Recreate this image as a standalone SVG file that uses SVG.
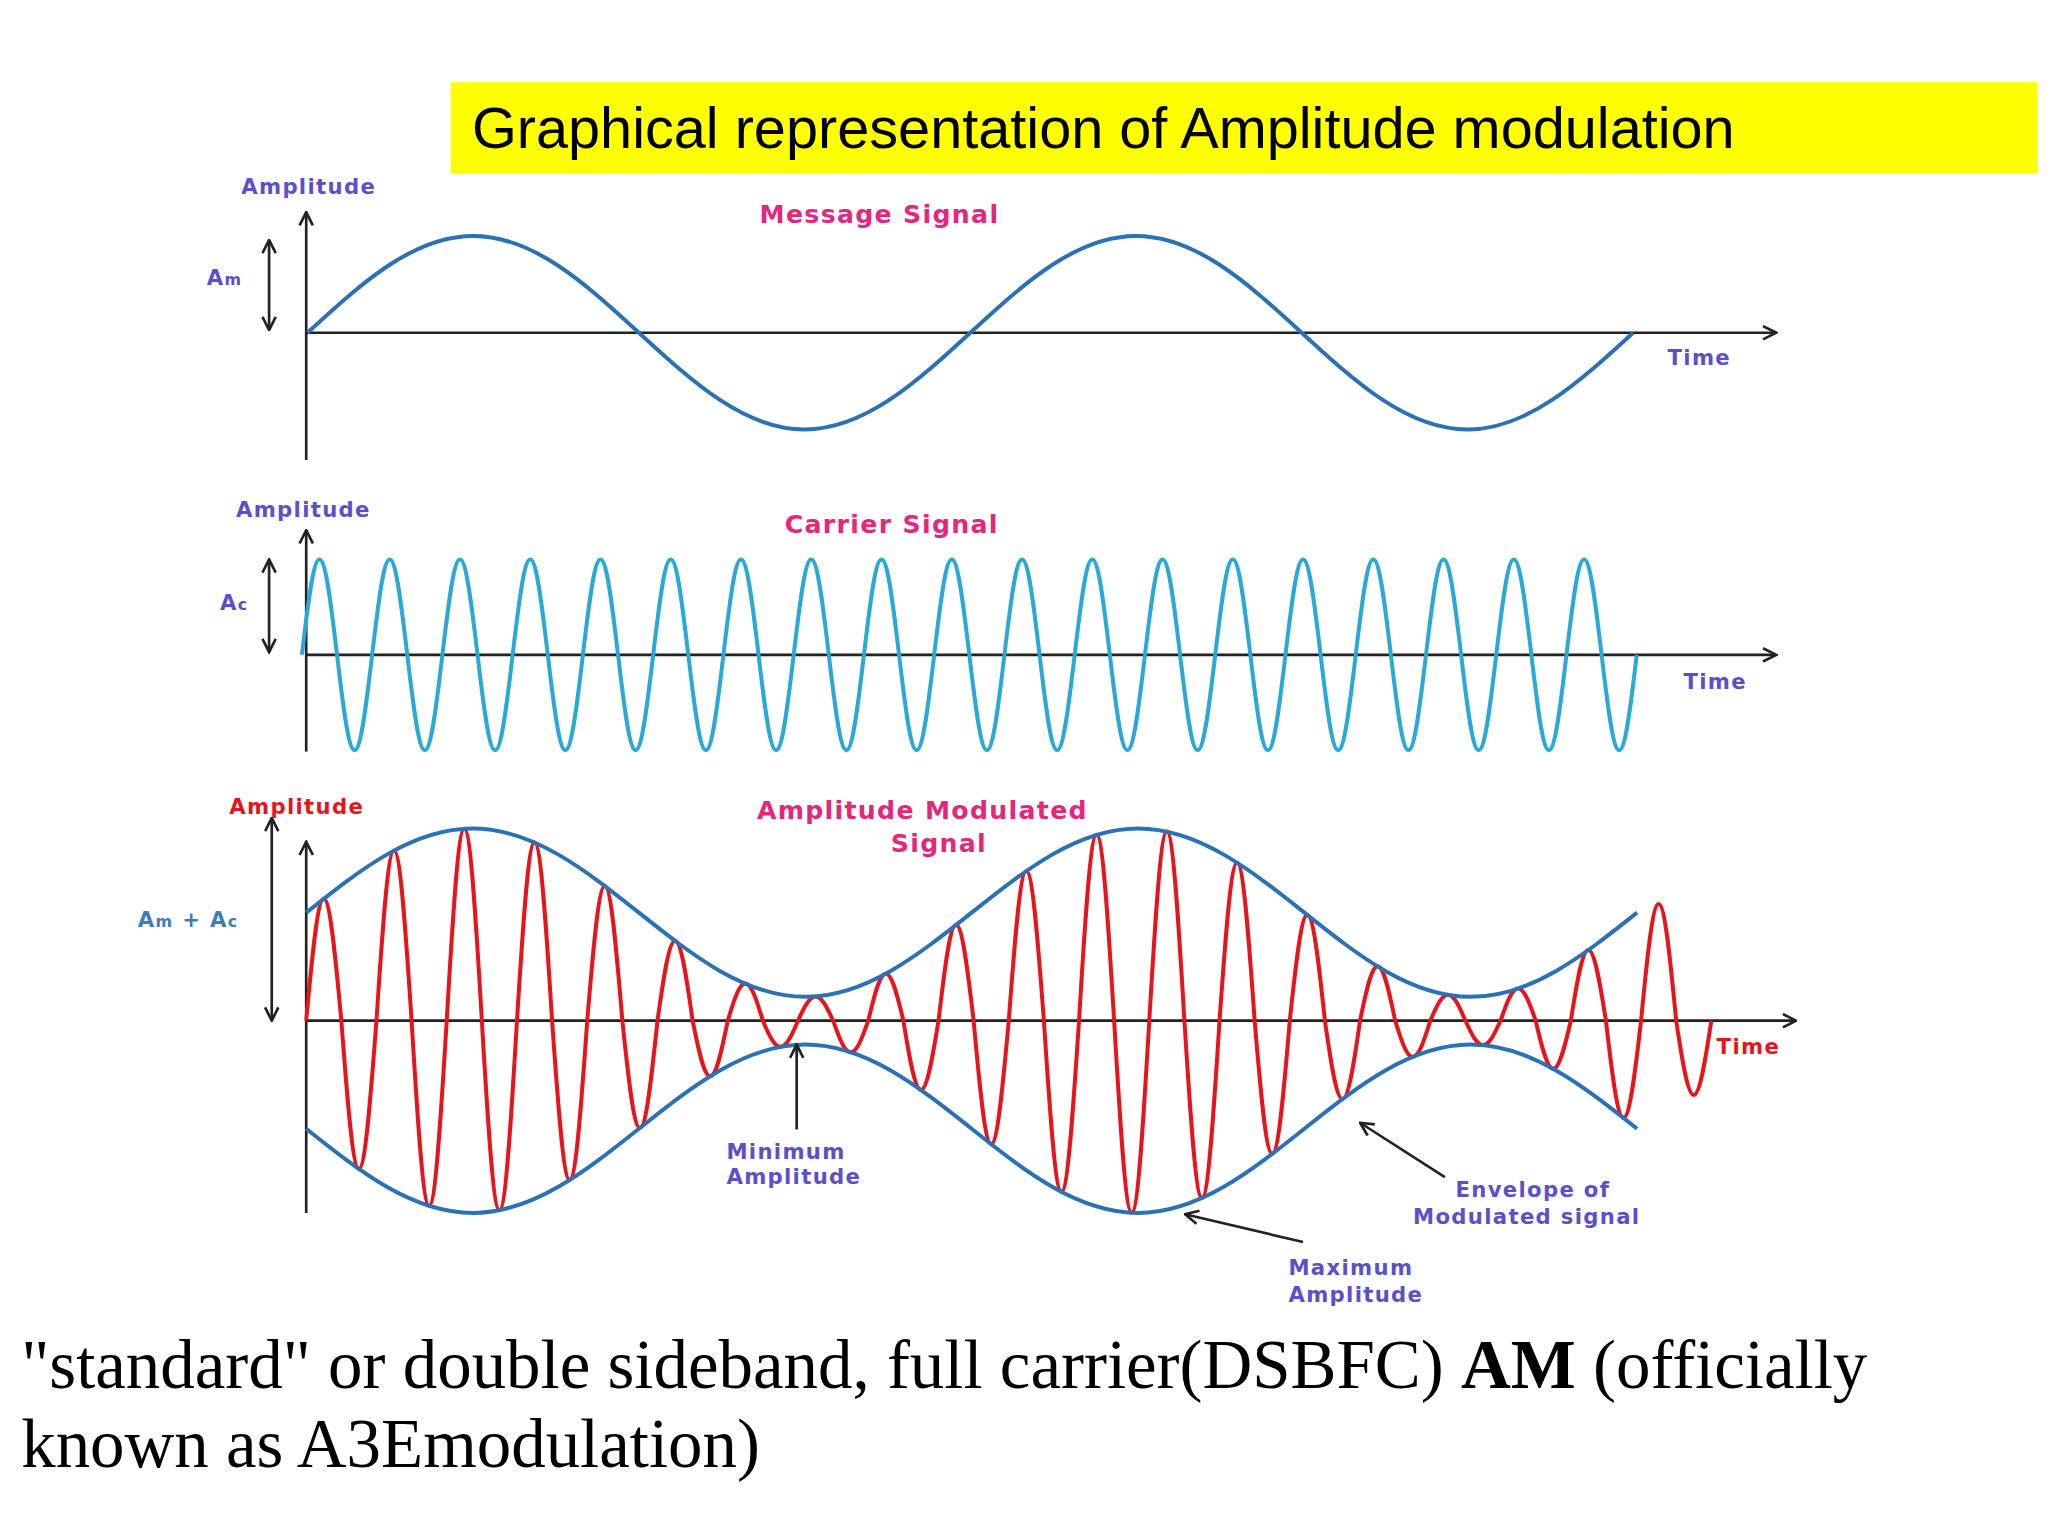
<svg xmlns="http://www.w3.org/2000/svg" width="2048" height="1536" viewBox="0 0 2048 1536">
<defs>
<marker id="ah" viewBox="0 0 12 12" refX="11" refY="6" markerWidth="12" markerHeight="12" markerUnits="userSpaceOnUse" orient="auto-start-reverse"><polyline points="1,1 11,6 1,11" fill="none" stroke="#222" stroke-width="2"/></marker>
<style>
.ax{stroke:#222;stroke-width:2;fill:none}
.lb{font-family:"DejaVu Sans",Verdana,sans-serif;font-weight:bold;font-size:16px;fill:#5a4fcf;letter-spacing:1px}
.ti{font-family:"DejaVu Sans",Verdana,sans-serif;font-weight:bold;font-size:19px;fill:#e6267d;letter-spacing:1px}
.wv{fill:none;stroke-width:3}
</style>
</defs>
<rect width="2048" height="1536" fill="#fff"/>
<g transform="scale(1.32557)">
<g id="title"><rect x="340" y="62" width="1197" height="69" fill="#ffff00"/><text x="356" y="112" font-family="Liberation Sans,Arial,sans-serif" font-size="43.5" fill="#000">Graphical representation of Amplitude modulation</text></g>

<g id="axes">
<line class="ax" x1="231" y1="347" x2="231" y2="160" marker-end="url(#ah)"/>
<line class="ax" x1="231" y1="251" x2="1340" y2="251" marker-end="url(#ah)"/>
<line class="ax" x1="203" y1="181" x2="203" y2="249" marker-start="url(#ah)" marker-end="url(#ah)"/>
<line class="ax" x1="231" y1="567" x2="231" y2="400" marker-end="url(#ah)"/>
<line class="ax" x1="231" y1="494" x2="1340" y2="494" marker-end="url(#ah)"/>
<line class="ax" x1="203" y1="422" x2="203" y2="492" marker-start="url(#ah)" marker-end="url(#ah)"/>
<line class="ax" x1="231" y1="915" x2="231" y2="635" marker-end="url(#ah)"/>
<line class="ax" x1="231" y1="770" x2="1355" y2="770" marker-end="url(#ah)"/>
<line class="ax" x1="205" y1="617" x2="205" y2="770" marker-start="url(#ah)" marker-end="url(#ah)"/>
</g>

<g id="message">
<path class="wv" stroke="#2a72b5" d="M232,251 c40.76,-37.4 79.76,-73 125,-73 c45.24,0 84.24,35.6 125,73 c40.76,37.4 79.76,73 125,73 c45.24,0 84.24,-35.6 125,-73 c40.76,-37.4 79.76,-73 125,-73 c45.24,0 84.24,35.6 125,73 c40.76,37.4 79.76,73 125,73 c45.24,0 84.24,-35.6 125,-73"/>
<text class="lb" x="182" y="146">Amplitude</text>
<text class="lb" x="156" y="215">A<tspan font-size="12">m</tspan></text>
<text class="ti" x="573" y="168">Message Signal</text>
<text class="lb" x="1258" y="275">Time</text>
</g>

<g id="carrier">
<path class="wv" stroke="#2aa8d8" d="M227.75,494 c4.32,-36.89 8.45,-72 13.25,-72 c4.8,0 8.93,35.11 13.25,72 c4.32,36.89 8.45,72 13.25,72 c4.8,0 8.93,-35.11 13.25,-72
c4.32,-36.89 8.45,-72 13.25,-72 c4.8,0 8.93,35.11 13.25,72 c4.32,36.89 8.45,72 13.25,72 c4.8,0 8.93,-35.11 13.25,-72
c4.32,-36.89 8.45,-72 13.25,-72 c4.8,0 8.93,35.11 13.25,72 c4.32,36.89 8.45,72 13.25,72 c4.8,0 8.93,-35.11 13.25,-72
c4.32,-36.89 8.45,-72 13.25,-72 c4.8,0 8.93,35.11 13.25,72 c4.32,36.89 8.45,72 13.25,72 c4.8,0 8.93,-35.11 13.25,-72
c4.32,-36.89 8.45,-72 13.25,-72 c4.8,0 8.93,35.11 13.25,72 c4.32,36.89 8.45,72 13.25,72 c4.8,0 8.93,-35.11 13.25,-72
c4.32,-36.89 8.45,-72 13.25,-72 c4.8,0 8.93,35.11 13.25,72 c4.32,36.89 8.45,72 13.25,72 c4.8,0 8.93,-35.11 13.25,-72
c4.32,-36.89 8.45,-72 13.25,-72 c4.8,0 8.93,35.11 13.25,72 c4.32,36.89 8.45,72 13.25,72 c4.8,0 8.93,-35.11 13.25,-72
c4.32,-36.89 8.45,-72 13.25,-72 c4.8,0 8.93,35.11 13.25,72 c4.32,36.89 8.45,72 13.25,72 c4.8,0 8.93,-35.11 13.25,-72
c4.32,-36.89 8.45,-72 13.25,-72 c4.8,0 8.93,35.11 13.25,72 c4.32,36.89 8.45,72 13.25,72 c4.8,0 8.93,-35.11 13.25,-72
c4.32,-36.89 8.45,-72 13.25,-72 c4.8,0 8.93,35.11 13.25,72 c4.32,36.89 8.45,72 13.25,72 c4.8,0 8.93,-35.11 13.25,-72
c4.32,-36.89 8.45,-72 13.25,-72 c4.8,0 8.93,35.11 13.25,72 c4.32,36.89 8.45,72 13.25,72 c4.8,0 8.93,-35.11 13.25,-72
c4.32,-36.89 8.45,-72 13.25,-72 c4.8,0 8.93,35.11 13.25,72 c4.32,36.89 8.45,72 13.25,72 c4.8,0 8.93,-35.11 13.25,-72
c4.32,-36.89 8.45,-72 13.25,-72 c4.8,0 8.93,35.11 13.25,72 c4.32,36.89 8.45,72 13.25,72 c4.8,0 8.93,-35.11 13.25,-72
c4.32,-36.89 8.45,-72 13.25,-72 c4.8,0 8.93,35.11 13.25,72 c4.32,36.89 8.45,72 13.25,72 c4.8,0 8.93,-35.11 13.25,-72
c4.32,-36.89 8.45,-72 13.25,-72 c4.8,0 8.93,35.11 13.25,72 c4.32,36.89 8.45,72 13.25,72 c4.8,0 8.93,-35.11 13.25,-72
c4.32,-36.89 8.45,-72 13.25,-72 c4.8,0 8.93,35.11 13.25,72 c4.32,36.89 8.45,72 13.25,72 c4.8,0 8.93,-35.11 13.25,-72
c4.32,-36.89 8.45,-72 13.25,-72 c4.8,0 8.93,35.11 13.25,72 c4.32,36.89 8.45,72 13.25,72 c4.8,0 8.93,-35.11 13.25,-72
c4.32,-36.89 8.45,-72 13.25,-72 c4.8,0 8.93,35.11 13.25,72 c4.32,36.89 8.45,72 13.25,72 c4.8,0 8.93,-35.11 13.25,-72
c4.32,-36.89 8.45,-72 13.25,-72 c4.8,0 8.93,35.11 13.25,72 c4.32,36.89 8.45,72 13.25,72 c4.8,0 8.93,-35.11 13.25,-72"/>
<text class="lb" x="178" y="390">Amplitude</text>
<text class="lb" x="166" y="460">A<tspan font-size="12">c</tspan></text>
<text class="ti" x="592" y="402">Carrier Signal</text>
<text class="lb" x="1270" y="520">Time</text>
</g>

<g id="modulated">
<path class="wv" stroke="#e8141c" stroke-width="2.6" d="M231,770
c4.32,-47.1 8.45,-92 13.25,-92 c4.8,0 8.93,44.9 13.25,92
c4.32,57.3 8.45,111.8 13.25,111.8 c4.8,0 8.93,-54.5 13.25,-111.8
c4.32,-65.7 8.45,-128.3 13.25,-128.3 c4.8,0 8.93,62.6 13.25,128.3
c4.32,71.6 8.45,139.7 13.25,139.7 c4.8,0 8.93,-68.1 13.25,-139.7
c4.32,-74.2 8.45,-144.8 13.25,-144.8 c4.8,0 8.93,70.6 13.25,144.8
c4.32,73.3 8.45,143 13.25,143 c4.8,0 8.93,-69.7 13.25,-143
c4.32,-68.9 8.45,-134.5 13.25,-134.5 c4.8,0 8.93,65.6 13.25,134.5
c4.32,61.6 8.45,120.2 13.25,120.2 c4.8,0 8.93,-58.6 13.25,-120.2
c4.32,-52 8.45,-101.6 13.25,-101.6 c4.8,0 8.93,49.6 13.25,101.6
c4.32,41.4 8.45,80.9 13.25,80.9 c4.8,0 8.93,-39.5 13.25,-80.9
c4.32,-30.9 8.45,-60.3 13.25,-60.3 c4.8,0 8.93,29.4 13.25,60.3
c4.32,21.5 8.45,42 13.25,42 c4.8,0 8.93,-20.5 13.25,-42
c4.32,-14.3 8.45,-28 13.25,-28 c4.8,0 8.93,13.7 13.25,28
c4.32,10.1 8.45,19.7 13.25,19.7 c4.8,0 8.93,-9.6 13.25,-19.7
c4.32,-9.4 8.45,-18.3 13.25,-18.3 c4.8,0 8.93,8.9 13.25,18.3
c4.32,12.2 8.45,23.8 13.25,23.8 c4.8,0 8.93,-11.6 13.25,-23.8
c4.32,-18.2 8.45,-35.5 13.25,-35.5 c4.8,0 8.93,17.3 13.25,35.5
c4.32,26.8 8.45,52.3 13.25,52.3 c4.8,0 8.93,-25.5 13.25,-52.3
c4.32,-37 8.45,-72.2 13.25,-72.2 c4.8,0 8.93,35.2 13.25,72.2
c4.32,47.7 8.45,93.2 13.25,93.2 c4.8,0 8.93,-45.5 13.25,-93.2
c4.32,-57.8 8.45,-112.9 13.25,-112.9 c4.8,0 8.93,55.1 13.25,112.9
c4.32,66.1 8.45,129.1 13.25,129.1 c4.8,0 8.93,-63 13.25,-129.1
c4.32,-71.8 8.45,-140.2 13.25,-140.2 c4.8,0 8.93,68.4 13.25,140.2
c4.32,74.2 8.45,144.9 13.25,144.9 c4.8,0 8.93,-70.7 13.25,-144.9
c4.32,-73.1 8.45,-142.7 13.25,-142.7 c4.8,0 8.93,69.6 13.25,142.7
c4.32,68.5 8.45,133.8 13.25,133.8 c4.8,0 8.93,-65.3 13.25,-133.8
c4.32,-61.1 8.45,-119.2 13.25,-119.2 c4.8,0 8.93,58.1 13.25,119.2
c4.32,51.5 8.45,100.5 13.25,100.5 c4.8,0 8.93,-49 13.25,-100.5
c4.32,-40.8 8.45,-79.7 13.25,-79.7 c4.8,0 8.93,38.9 13.25,79.7
c4.32,30.3 8.45,59.2 13.25,59.2 c4.8,0 8.93,-28.9 13.25,-59.2
c4.32,-21 8.45,-41 13.25,-41 c4.8,0 8.93,20 13.25,41
c4.32,14 8.45,27.3 13.25,27.3 c4.8,0 8.93,-13.3 13.25,-27.3
c4.32,-10 8.45,-19.5 13.25,-19.5 c4.8,0 8.93,9.5 13.25,19.5
c4.32,9.4 8.45,18.4 13.25,18.4 c4.8,0 8.93,-9 13.25,-18.4
c4.32,-12.4 8.45,-24.2 13.25,-24.2 c4.8,0 8.93,11.8 13.25,24.2
c4.32,18.6 8.45,36.3 13.25,36.3 c4.8,0 8.93,-17.7 13.25,-36.3
c4.32,-27.3 8.45,-53.3 13.25,-53.3 c4.8,0 8.93,26 13.25,53.3
c4.32,37.6 8.45,73.3 13.25,73.3 c4.8,0 8.93,-35.7 13.25,-73.3
c4.32,-45.1 8.45,-88 13.25,-88 c4.8,0 8.93,42.9 13.25,88
c4.32,28.7 8.45,56 13.25,56 c4.8,0 8.93,-27.3 13.25,-56"/>
<path class="wv" stroke="#2a72b5" d="M231,688.5 c40.93,-32.53 80.08,-63.5 125.5,-63.5 c45.42,0 84.57,30.97 125.5,63.5 c40.93,32.53 80.08,63.5 125.5,63.5 c45.42,0 84.57,-30.97 125.5,-63.5 c40.93,-32.53 80.08,-63.5 125.5,-63.5 c45.42,0 84.57,30.97 125.5,63.5 c40.93,32.53 80.08,63.5 125.5,63.5 c45.42,0 84.57,-30.97 125.5,-63.5"/>
<path class="wv" stroke="#2a72b5" d="M231,851.5 c40.93,32.53 80.08,63.5 125.5,63.5 c45.42,0 84.57,-30.97 125.5,-63.5 c40.93,-32.53 80.08,-63.5 125.5,-63.5 c45.42,0 84.57,30.97 125.5,63.5 c40.93,32.53 80.08,63.5 125.5,63.5 c45.42,0 84.57,-30.97 125.5,-63.5 c40.93,-32.53 80.08,-63.5 125.5,-63.5 c45.42,0 84.57,30.97 125.5,63.5"/>
<text class="lb" x="173" y="614" style="fill:#e8141c">Amplitude</text>
<text class="lb" x="104" y="699" style="fill:#3a7fb8">A<tspan font-size="12">m</tspan> + A<tspan font-size="12">c</tspan></text>
<text class="ti" x="571" y="618">Amplitude Modulated</text>
<text class="ti" x="672" y="643">Signal</text>
<text class="lb" x="1295" y="795" style="fill:#e8141c">Time</text>
<text class="lb" x="548" y="874">Minimum</text>
<text class="lb" x="548" y="893">Amplitude</text>
<text class="lb" x="1098" y="903">Envelope of</text>
<text class="lb" x="1066" y="923">Modulated signal</text>
<text class="lb" x="972" y="962">Maximum</text>
<text class="lb" x="972" y="982">Amplitude</text>
</g>

<g id="connectors">
<line class="ax" x1="601" y1="852" x2="601" y2="788" marker-end="url(#ah)"/>
<line class="ax" x1="1090" y1="888" x2="1026" y2="847" marker-end="url(#ah)"/>
<line class="ax" x1="983" y1="937" x2="894" y2="916" marker-end="url(#ah)"/>
</g>

<g id="caption" font-family="Liberation Serif,Times New Roman,serif" font-size="52" fill="#000">
<text x="16" y="1047">"standard" or double sideband, full carrier(DSBFC) <tspan font-weight="bold">AM</tspan> (officially</text>
<text x="16" y="1107">known as A3Emodulation)</text>
</g>
</g>
</svg>
